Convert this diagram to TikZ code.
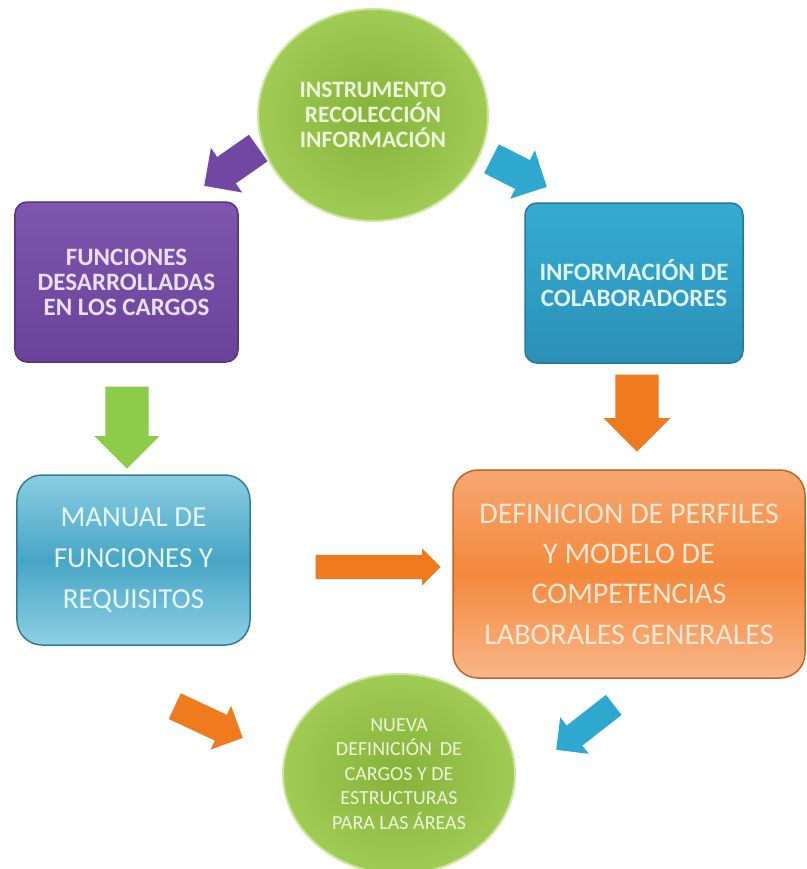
\documentclass[tikz,border=0pt]{standalone}
\usepackage{fontspec}
\setmainfont{Carlito}
\usetikzlibrary{shapes.geometric,shapes.arrows}
\definecolor{grIn}{HTML}{86B23A}
\definecolor{grOut}{HTML}{A0CB55}
\definecolor{grRim}{HTML}{CDE69F}
\definecolor{puTop}{HTML}{7E56AE}
\definecolor{puBot}{HTML}{6B4299}
\definecolor{puBrd}{HTML}{56337F}
\definecolor{blTop}{HTML}{35ACD3}
\definecolor{blBot}{HTML}{2B90B6}
\definecolor{blBrd}{HTML}{237A9A}
\definecolor{maTop}{HTML}{8BCDE1}
\definecolor{maMid}{HTML}{47A6C5}
\definecolor{maBot}{HTML}{8FCFE3}
\definecolor{maBrd}{HTML}{2D7D99}
\definecolor{orTop}{HTML}{F6A772}
\definecolor{orMid}{HTML}{F3893C}
\definecolor{orBot}{HTML}{F8B68B}
\definecolor{orBrd}{HTML}{C4651F}
\definecolor{arPu}{HTML}{7247A3}
\definecolor{arBl}{HTML}{2EA8CF}
\definecolor{arGr}{HTML}{8DCB4B}
\definecolor{arOr}{HTML}{EF7B1E}
\definecolor{tGr}{HTML}{ECF5DA}
\definecolor{tPu}{HTML}{E8DFF2}
\definecolor{tBl}{HTML}{DDF2F9}
\definecolor{tMa}{HTML}{E6F4F9}
\definecolor{tOr}{HTML}{FDE8D6}
\begin{document}
\begin{tikzpicture}[x=1bp,y=-1bp,
  circnode/.style={ellipse, inner sep=0pt, shading=radial, inner color=grIn, outer color=grOut, draw=grRim, line width=2bp, align=center, text=tGr},
  boxnode/.style={rectangle, inner sep=0pt, align=center, line width=1.5bp},
  blockarr/.style={single arrow, anchor=tip, inner xsep=0pt, single arrow head indent=0pt, single arrow tip angle=90, draw=none}
]
\useasboundingbox[fill=white] (0,0) rectangle (807,869);

% nodes
\node[circnode, minimum width=230bp, minimum height=212bp,
  font=\bfseries\fontsize{23.5bp}{25bp}\selectfont] (instr) at (373,115)
  {INSTRUMENTO\\RECOLECCIÓN\\INFORMACIÓN};

\node[boxnode, rounded corners=12bp, minimum width=223bp, minimum height=160bp,
  top color=puTop, bottom color=puBot, draw=puBrd, text=tPu,
  font=\bfseries\fontsize{25bp}{25bp}\selectfont] (func) at (126.5,282)
  {FUNCIONES\\DESARROLLADAS\\EN LOS CARGOS};

\node[boxnode, rounded corners=12bp, minimum width=218bp, minimum height=160bp,
  top color=blTop, bottom color=blBot, draw=blBrd, text=tBl,
  font=\bfseries\fontsize{25bp}{26bp}\selectfont] (colab) at (634,283)
  {INFORMACIÓN DE\\COLABORADORES};

\node[boxnode, rounded corners=25bp, minimum width=233bp, minimum height=170bp,
  top color=maTop, bottom color=maBot, middle color=maMid, draw=maBrd, text=tMa,
  font=\fontsize{29bp}{41bp}\selectfont] (manual) at (133.5,560)
  {MANUAL DE\\FUNCIONES Y\\REQUISITOS};

\node[boxnode, rounded corners=25bp, minimum width=352bp, minimum height=208bp,
  top color=orTop, bottom color=orBot, middle color=orMid, draw=orBrd, text=tOr,
  font=\fontsize{30bp}{40.3bp}\selectfont] (perf) at (629,574)
  {DEFINICION DE PERFILES\\Y MODELO DE\\COMPETENCIAS\\LABORALES GENERALES};

\node[circnode, minimum width=232bp, minimum height=200bp,
  font=\fontsize{20bp}{24.5bp}\selectfont] (nueva) at (399,774)
  {NUEVA\\DEFINICIÓN\, DE\\CARGOS Y DE\\ESTRUCTURAS\\PARA LAS ÁREAS};

% block arrows (shaft width = 2 x inner ysep), placed by their tips
\node[blockarr, fill=arPu, minimum height=66bp, inner ysep=16bp, single arrow head extend=11bp, rotate=215] (a1) at (204,186) {};
\node[blockarr, fill=arBl, minimum height=62bp, inner ysep=16bp, single arrow head extend=11bp, rotate=-27] (a2) at (547,187) {};
\node[blockarr, fill=arGr, minimum height=82bp, inner ysep=21.5bp, single arrow head extend=11bp, rotate=-90] (a3) at (127,469) {};
\node[blockarr, fill=arOr, minimum height=77bp, inner ysep=21.5bp, single arrow head extend=12bp, rotate=-90] (a4) at (637,452) {};
\node[blockarr, fill=arOr, minimum height=125bp, inner ysep=12bp, single arrow head extend=6.5bp] (a5) at (441,567) {};
\node[blockarr, fill=arOr, minimum height=75bp, inner ysep=14bp, single arrow head extend=10bp, rotate=-25] (a6) at (243,738) {};
\node[blockarr, fill=arBl, minimum height=73bp, inner ysep=12.5bp, single arrow head extend=10.5bp, rotate=218] (a7) at (556,750) {};
\end{tikzpicture}
\end{document}
